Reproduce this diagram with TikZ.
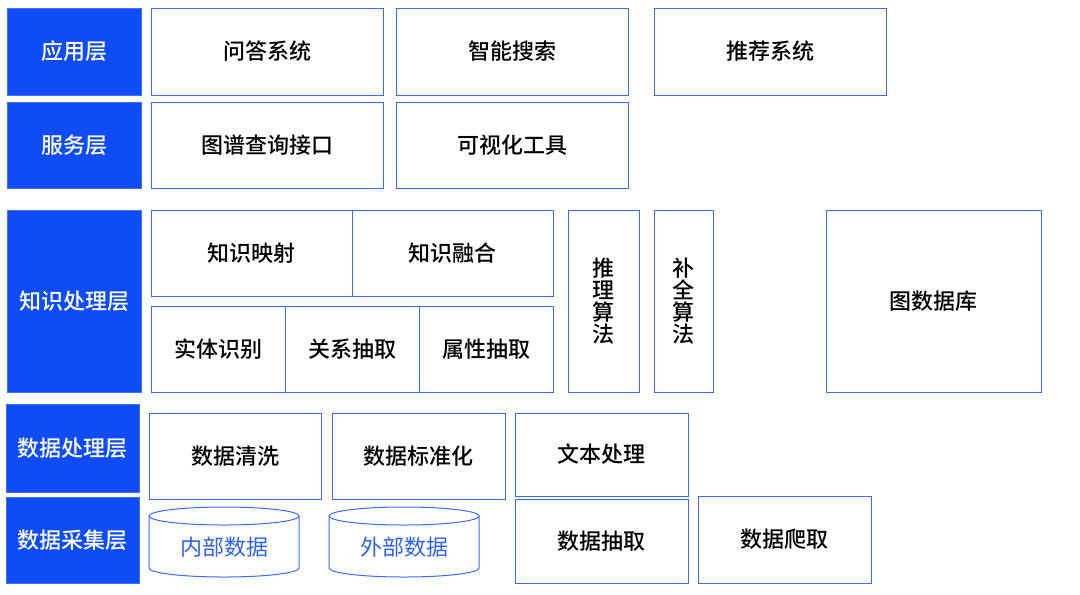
\documentclass[tikz,border=0pt]{standalone}
\usepackage{fontspec}
\setmainfont{Noto Sans CJK SC}
\newfontfamily\cjkmed{Noto Sans CJK SC Medium}
\usetikzlibrary{fit}
\definecolor{layerblue}{HTML}{0F4CF6}
\definecolor{edgeblue}{HTML}{3A6BF7}
\definecolor{cyltext}{HTML}{2E62F2}
\tikzset{
  layer/.style={fill=layerblue, draw=layerblue!80!white, line width=0.75pt, inner sep=0pt},
  box/.style={draw=edgeblue, line width=0.75pt, inner sep=0pt},
  wlabel/.style={text=white, inner sep=0pt, font=\cjkmed\fontsize{16.5}{19}\selectfont},
  blabel/.style={text=black, inner sep=0pt, font=\cjkmed\fontsize{16.5}{19}\selectfont},
  vlabel/.style={text=black, inner sep=0pt, align=center, font=\cjkmed\fontsize{16.5}{16.6}\selectfont},
  cyl/.style={draw=edgeblue, line width=0.75pt, fill=white},
  cyllabel/.style={text=cyltext, font=\fontsize{16.5}{19}\selectfont, inner sep=0pt}
}
\begin{document}
\begin{tikzpicture}[x=0.75pt, y=-0.75pt]
\useasboundingbox[fill=white] (0,0) rectangle (1080,594);
% layer labels
\node[layer, fit={(7,8) (141,95)}] (L1) {};
\node[wlabel] at (L1.center) {应用层};
\node[layer, fit={(7,102) (141,188)}] (L2) {};
\node[wlabel] at (L2.center) {服务层};
\node[layer, fit={(7,210) (141,392)}] (L3) {};
\node[wlabel] at (L3.center) {知识处理层};
\node[layer, fit={(6,404) (139,492)}] (L4) {};
\node[wlabel] at (L4.center) {数据处理层};
\node[layer, fit={(6,497) (139,583)}] (L5) {};
\node[wlabel] at (L5.center) {数据采集层};
% application layer
\node[box, fit={(151,8) (383,95)}] (qa) {};
\node[blabel] at (qa.center) {问答系统};
\node[box, fit={(396,8) (628,95)}] (search) {};
\node[blabel] at (search.center) {智能搜索};
\node[box, fit={(654,8) (886,95)}] (rec) {};
\node[blabel] at (rec.center) {推荐系统};
% service layer
\node[box, fit={(151,102) (383,188)}] (api) {};
\node[blabel] at (api.center) {图谱查询接口};
\node[box, fit={(396,102) (628,188)}] (vis) {};
\node[blabel] at (vis.center) {可视化工具};
% knowledge processing layer
\node[box, fit={(151,210) (352,296)}] (map) {};
\node[blabel] at (map.center) {知识映射};
\node[box, fit={(352,210) (553,296)}] (fuse) {};
\node[blabel] at (fuse.center) {知识融合};
\node[box, fit={(151,306) (285,392)}] (ent) {};
\node[blabel] at (ent.center) {实体识别};
\node[box, fit={(285,306) (419,392)}] (rel) {};
\node[blabel] at (rel.center) {关系抽取};
\node[box, fit={(419,306) (553,392)}] (attr) {};
\node[blabel] at (attr.center) {属性抽取};
\node[box, fit={(568,210) (639,392)}] (infer) {};
\node[vlabel] at (infer.center) {推\\理\\算\\法};
\node[box, fit={(654,210) (713,392)}] (comp) {};
\node[vlabel] at (comp.center) {补\\全\\算\\法};
\node[box, fit={(826,210) (1041,392)}] (gdb) {};
\node[blabel] at (gdb.center) {图数据库};
% data processing layer
\node[box, fit={(149,413) (321,499)}] (clean) {};
\node[blabel] at (clean.center) {数据清洗};
\node[box, fit={(332,413) (505,499)}] (norm) {};
\node[blabel] at (norm.center) {数据标准化};
\node[box, fit={(515,413) (688,496)}] (text) {};
\node[blabel] at (text.center) {文本处理};
% data collection layer
\node[box, fit={(515,499) (688,583)}] (extract) {};
\node[blabel] at (extract.center) {数据抽取};
\node[box, fit={(698,496) (871,583)}] (crawl) {};
\node[blabel] at (crawl.center) {数据爬取};
% cylinders
\draw[cyl] (149,516) -- (149,568) arc[start angle=180, end angle=360, x radius=56.25pt, y radius=6.75pt] -- (299,516);
\draw[cyl] (224,516) ellipse[x radius=56.25pt, y radius=6.75pt];
\node[cyllabel] (inner) at (224,547) {内部数据};
\draw[cyl] (329,516) -- (329,568) arc[start angle=180, end angle=360, x radius=56.25pt, y radius=6.75pt] -- (479,516);
\draw[cyl] (404,516) ellipse[x radius=56.25pt, y radius=6.75pt];
\node[cyllabel] (outer) at (404,547) {外部数据};
\end{tikzpicture}
\end{document}
